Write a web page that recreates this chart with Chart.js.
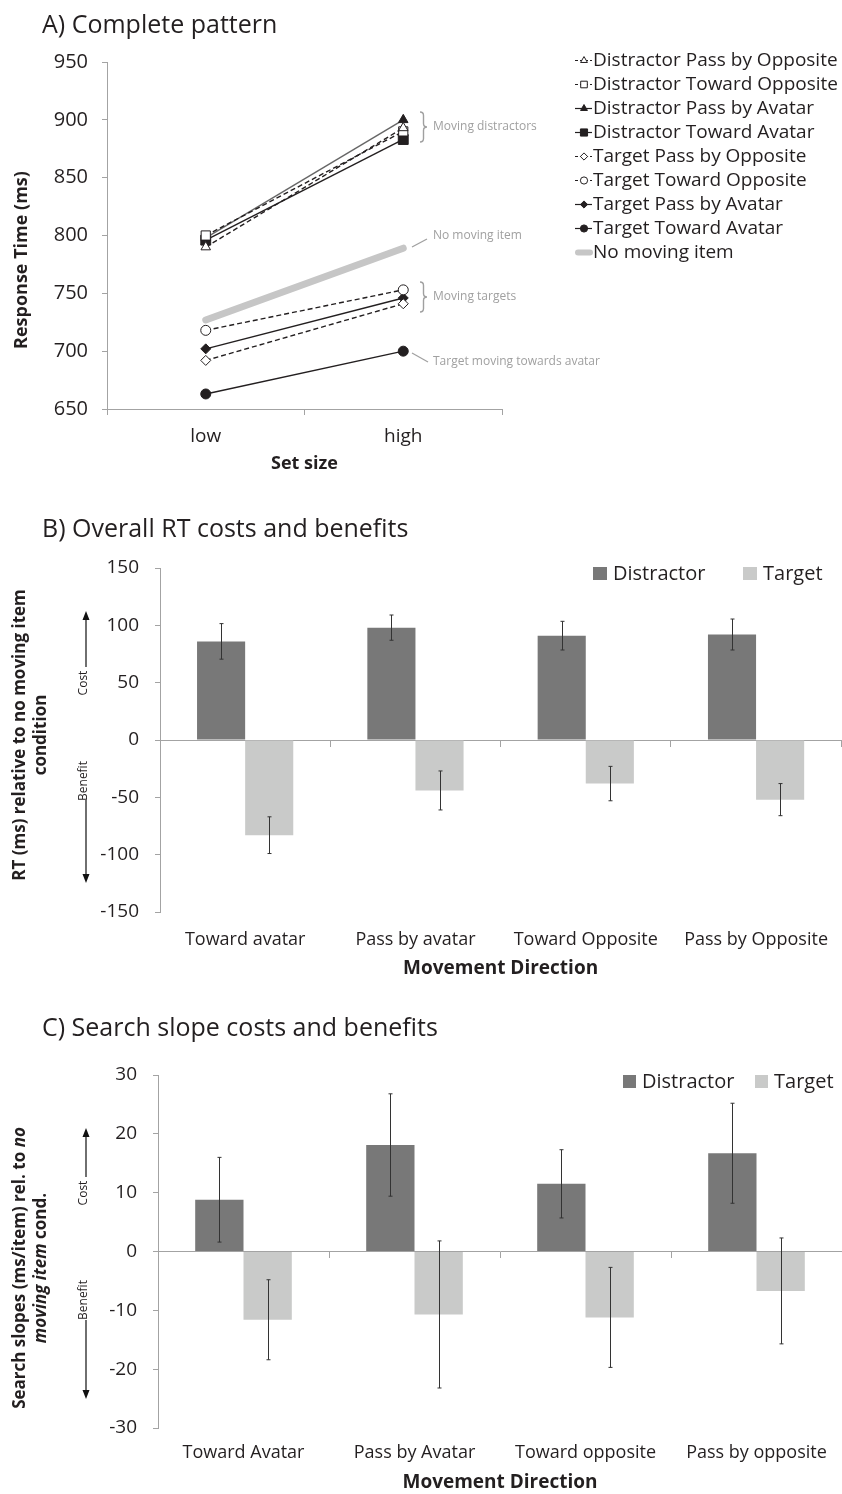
<!DOCTYPE html>
<html>
<head>
<meta charset="utf-8">
<title>Moving items: response times and search slopes</title>
<script src="https://cdn.jsdelivr.net/npm/chart.js@4.4.1/dist/chart.umd.min.js"></script>
<style>
  html, body { margin: 0; padding: 0; background: #fff; overflow: hidden; }
  canvas { position: absolute; left: 0; display: block; }
</style>
</head>
<body>
<canvas id="chartA" width="842" height="485" style="top:0"></canvas>
<canvas id="chartB" width="845" height="500" style="top:490px"></canvas>
<canvas id="chartC" width="842" height="494" style="top:1000px"></canvas>
<script>
// --- 1. Data ---
// A) response times per set size
const setSizes = ['low', 'high'];
const rtTicks = [650, 700, 750, 800, 850, 900, 950];
const seriesNames = [
    'Distractor Pass by Opposite',
    'Distractor Toward Opposite',
    'Distractor Pass by Avatar',
    'Distractor Toward Avatar',
    'Target Pass by Opposite',
    'Target Toward Opposite',
    'Target Pass by Avatar',
    'Target Toward Avatar',
    'No moving item'
];
const distPassOpposite = [790, 893];
const distTowardOpposite = [800, 890];
const distPassAvatar = [798, 900];
const distTowardAvatar = [796, 883];
const targPassOpposite = [692, 741];
const targTowardOpposite = [718, 753];
const targPassAvatar = [702, 746];
const targTowardAvatar = [663, 700];
const noMovingItem = [727, 789];

// B) RT relative to the no moving item condition
const directionsB = ['Toward avatar', 'Pass by avatar', 'Toward Opposite', 'Pass by Opposite'];
const costTicks = [-150, -100, -50, 0, 50, 100, 150];
const rtDistractor = [86, 98, 91, 92];
const rtDistractorErr = [15.5, 11, 12.5, 13.5];
const rtTarget = [-83, -44, -38, -52];
const rtTargetErr = [16, 17, 15, 14];

// C) search slopes relative to the no moving item condition
const directionsC = ['Toward Avatar', 'Pass by Avatar', 'Toward opposite', 'Pass by opposite'];
const slopeTicks = [-30, -20, -10, 0, 10, 20, 30];
const slopeDistractor = [8.8, 18.1, 11.5, 16.7];
const slopeDistractorErr = [7.2, 8.7, 5.8, 8.5];
const slopeTarget = [-11.6, -10.7, -11.2, -6.7];
const slopeTargetErr = [6.8, 12.5, 8.5, 9];

// --- 2. Shared look ---
const FONT = '"Open Sans", "DejaVu Sans", sans-serif';
const INK = '#231f20';
const AXIS = '#a3a3a3';
const NOTE = '#a0a0a0';
const DARK_BAR = '#787878';
const LIGHT_BAR = '#c9cac9';

Chart.defaults.font.family = FONT;
Chart.defaults.color = INK;

function lineSeries(label, data, shape, filled, dashed, radius, lineColor) {
    return {
        label: label,
        data: data,
        borderColor: lineColor || INK,
        borderWidth: 1.4,
        borderDash: dashed ? [5, 3] : [],
        pointStyle: shape,
        pointRadius: radius,
        pointHoverRadius: radius,
        pointBackgroundColor: filled ? INK : '#fff',
        pointBorderColor: INK,
        pointBorderWidth: 1
    };
}

function marker(ctx, style, radius, x, y) {
    if (Chart.helpers && Chart.helpers.drawPoint) {
        Chart.helpers.drawPoint(ctx, { pointStyle: style, radius: radius, rotation: 0, borderWidth: 1 }, x, y);
        return;
    }
    ctx.beginPath();
    ctx.arc(x, y, radius, 0, Math.PI * 2);
    ctx.fill();
    ctx.stroke();
}

// --- 3. Drawing helpers for titles, notes and keys ---
function drawSideTitle(ctx, st) {
    st.lines.forEach((segs, i) => {
        let total = 0;
        const widths = segs.map(s => {
            ctx.font = (s.it ? 'italic ' : '') + 'bold ' + st.size + 'px ' + FONT;
            const w = ctx.measureText(s.t).width;
            total += w;
            return w;
        });
        ctx.save();
        ctx.translate(st.x[i], st.y);
        ctx.rotate(-Math.PI / 2);
        ctx.fillStyle = INK;
        ctx.textAlign = 'left';
        ctx.textBaseline = 'middle';
        let pos = -total / 2;
        segs.forEach((s, k) => {
            ctx.font = (s.it ? 'italic ' : '') + 'bold ' + st.size + 'px ' + FONT;
            ctx.fillText(s.t, pos, 0);
            pos += widths[k];
        });
        ctx.restore();
    });
}

function rotatedLabel(ctx, text, x, y) {
    ctx.save();
    ctx.translate(x, y);
    ctx.rotate(-Math.PI / 2);
    ctx.font = '12px ' + FONT;
    ctx.fillStyle = INK;
    ctx.textAlign = 'center';
    ctx.textBaseline = 'middle';
    ctx.fillText(text, 0, 0);
    ctx.restore();
}

function drawCostBenefit(ctx, a) {
    ctx.strokeStyle = '#111';
    ctx.fillStyle = '#111';
    ctx.lineWidth = 1.2;
    ctx.beginPath();
    ctx.moveTo(a.x, a.costLineBottom);
    ctx.lineTo(a.x, a.costTip + 6);
    ctx.moveTo(a.x, a.benefitLineTop);
    ctx.lineTo(a.x, a.benefitTip - 6);
    ctx.stroke();
    ctx.beginPath();
    ctx.moveTo(a.x, a.costTip);
    ctx.lineTo(a.x - 3.5, a.costTip + 9);
    ctx.lineTo(a.x + 3.5, a.costTip + 9);
    ctx.closePath();
    ctx.moveTo(a.x, a.benefitTip);
    ctx.lineTo(a.x - 3.5, a.benefitTip - 9);
    ctx.lineTo(a.x + 3.5, a.benefitTip - 9);
    ctx.closePath();
    ctx.fill();
    rotatedLabel(ctx, 'Cost', a.x - 2, a.costText);
    rotatedLabel(ctx, 'Benefit', a.x - 2, a.benefitText);
}

function drawSwatches(ctx, chart, sw) {
    chart.data.datasets.forEach((ds, i) => {
        ctx.fillStyle = ds.backgroundColor;
        ctx.fillRect(sw.x[i], sw.y, sw.w, sw.h);
        ctx.fillStyle = INK;
        ctx.font = sw.size + 'px ' + FONT;
        ctx.textAlign = 'left';
        ctx.textBaseline = 'middle';
        ctx.fillText(ds.label, sw.x[i] + sw.w + 6, sw.y + sw.h / 2 + 0.5);
    });
}

function drawLineKey(ctx, chart, key) {
    chart.data.datasets.forEach((ds, i) => {
        const y = key.y + i * key.step;
        ctx.save();
        ctx.strokeStyle = ds.borderColor;
        if (ds.borderWidth > 3) {
            ctx.lineWidth = 6;
            ctx.lineCap = 'round';
            ctx.beginPath();
            ctx.moveTo(key.x0 + 3, y);
            ctx.lineTo(key.x1 - 2, y);
            ctx.stroke();
        } else {
            ctx.strokeStyle = INK;
            ctx.lineWidth = 1.2;
            ctx.setLineDash(ds.borderDash.length ? [3, 2] : []);
            ctx.beginPath();
            ctx.moveTo(key.x0, y);
            ctx.lineTo(key.x1, y);
            ctx.stroke();
            ctx.setLineDash([]);
            ctx.fillStyle = ds.pointBackgroundColor;
            ctx.strokeStyle = ds.pointBorderColor;
            ctx.lineWidth = 1;
            marker(ctx, ds.pointStyle, ds.pointRadius * 0.72, key.xm, y);
        }
        ctx.restore();
        ctx.fillStyle = INK;
        ctx.font = key.size + 'px ' + FONT;
        ctx.textAlign = 'left';
        ctx.textBaseline = 'middle';
        ctx.fillText(ds.label, key.x1 + 1, y + 0.5);
    });
}

function brace(ctx, x, y1, y2, w) {
    const m = (y1 + y2) / 2, h = w / 2;
    ctx.beginPath();
    ctx.moveTo(x, y1);
    ctx.quadraticCurveTo(x + h, y1, x + h, y1 + h);
    ctx.lineTo(x + h, m - h);
    ctx.quadraticCurveTo(x + h, m, x + w, m);
    ctx.quadraticCurveTo(x + h, m, x + h, m + h);
    ctx.lineTo(x + h, y2 - h);
    ctx.quadraticCurveTo(x + h, y2, x, y2);
    ctx.stroke();
}

function drawNotes(ctx, notes) {
    ctx.strokeStyle = NOTE;
    ctx.lineWidth = 1.4;
    notes.braces.forEach(b => brace(ctx, b[0], b[1], b[2], 7));
    ctx.lineWidth = 1.2;
    notes.leaders.forEach(l => {
        ctx.beginPath();
        ctx.moveTo(l[0], l[1]);
        ctx.lineTo(l[2], l[3]);
        ctx.stroke();
    });
    ctx.fillStyle = NOTE;
    ctx.font = '12px ' + FONT;
    ctx.textAlign = 'left';
    ctx.textBaseline = 'middle';
    notes.texts.forEach(t => ctx.fillText(t[0], t[1], t[2]));
}

function panelDecor(cfg) {
    return {
        id: 'panelDecor',
        afterDraw(chart) {
            const ctx = chart.ctx;
            ctx.save();
            ctx.fillStyle = INK;
            ctx.font = '25px ' + FONT;
            ctx.textAlign = 'left';
            ctx.textBaseline = 'alphabetic';
            ctx.fillText(cfg.heading, 42, cfg.headingY);
            drawSideTitle(ctx, cfg.sideTitle);
            if (cfg.costBenefit) drawCostBenefit(ctx, cfg.costBenefit);
            if (cfg.swatches) drawSwatches(ctx, chart, cfg.swatches);
            if (cfg.lineKey) drawLineKey(ctx, chart, cfg.lineKey);
            if (cfg.notes) drawNotes(ctx, cfg.notes);
            ctx.restore();
        }
    };
}

// error bars: +/- one error around each bar value, drawn through the y scale
const errorBars = {
    id: 'errorBars',
    afterDatasetsDraw(chart) {
        const ctx = chart.ctx;
        const y = chart.scales.y;
        ctx.save();
        ctx.strokeStyle = '#333';
        ctx.lineWidth = 1;
        chart.data.datasets.forEach((ds, i) => {
            if (!ds.errors) return;
            chart.getDatasetMeta(i).data.forEach((bar, j) => {
                const top = y.getPixelForValue(ds.data[j] + ds.errors[j]);
                const bot = y.getPixelForValue(ds.data[j] - ds.errors[j]);
                const x = Math.round(bar.x) + 0.5;
                ctx.beginPath();
                ctx.moveTo(x, top);
                ctx.lineTo(x, bot);
                ctx.moveTo(x - 2, top);
                ctx.lineTo(x + 2, top);
                ctx.moveTo(x - 2, bot);
                ctx.lineTo(x + 2, bot);
                ctx.stroke();
            });
        });
        ctx.restore();
    }
};

// --- 4. A) Complete pattern ---
new Chart(document.getElementById('chartA'), {
    type: 'line',
    data: {
        labels: setSizes,
        datasets: [
            lineSeries(seriesNames[0], distPassOpposite, 'triangle', false, true, 5.5),
            lineSeries(seriesNames[1], distTowardOpposite, 'rect', false, true, 6.5),
            lineSeries(seriesNames[2], distPassAvatar, 'triangle', true, false, 5.5, '#666'),
            lineSeries(seriesNames[3], distTowardAvatar, 'rect', true, false, 7),
            lineSeries(seriesNames[4], targPassOpposite, 'rectRot', false, true, 5),
            lineSeries(seriesNames[5], targTowardOpposite, 'circle', false, true, 5),
            lineSeries(seriesNames[6], targPassAvatar, 'rectRot', true, false, 5),
            lineSeries(seriesNames[7], targTowardAvatar, 'circle', true, false, 5),
            {
                label: seriesNames[8],
                data: noMovingItem,
                borderColor: '#c6c6c6',
                borderWidth: 7,
                borderCapStyle: 'round',
                borderDash: [],
                pointRadius: 0
            }
        ]
    },
    options: {
        responsive: false,
        devicePixelRatio: 1,
        animation: false,
        events: [],
        layout: { padding: { top: 62, right: 340, bottom: 0, left: 0 } },
        plugins: { legend: { display: false }, tooltip: { enabled: false } },
        scales: {
            x: {
                type: 'category',
                offset: true,
                grid: { display: true, drawOnChartArea: false, drawTicks: true, tickLength: 6, color: AXIS, offset: true },
                border: { color: AXIS },
                ticks: { font: { size: 19 }, color: INK, padding: 10 },
                title: { display: true, text: 'Set size', font: { size: 18, weight: 'bold' }, color: INK, padding: { top: 0, bottom: 10 } },
                afterFit(s) { s.height = 76; }
            },
            y: {
                min: rtTicks[0],
                max: rtTicks[rtTicks.length - 1],
                ticks: { stepSize: rtTicks[1] - rtTicks[0], font: { size: 20 }, color: INK, padding: 14 },
                grid: { display: true, drawOnChartArea: false, drawTicks: true, tickLength: 5, color: AXIS },
                border: { color: AXIS },
                afterFit(s) { s.width = 107; }
            }
        }
    },
    plugins: [panelDecor({
        heading: 'A) Complete pattern',
        headingY: 33,
        sideTitle: { lines: [[{ t: 'Response Time (ms)' }]], x: [22], y: 260, size: 18 },
        lineKey: { x0: 575, x1: 592, xm: 584, y: 60.5, step: 24, size: 19 },
        notes: {
            braces: [[420, 112, 142], [420, 282, 312]],
            leaders: [[412, 247, 427, 239], [412, 353, 428, 362]],
            texts: [
                ['Moving distractors', 433, 127],
                ['No moving item', 433, 236],
                ['Moving targets', 433, 297],
                ['Target moving towards avatar', 433, 362]
            ]
        }
    })]
});

// --- 5. Bar panels (B and C) ---
function costBarChart(id, cfg) {
    return new Chart(document.getElementById(id), {
        type: 'bar',
        data: {
            labels: cfg.labels,
            datasets: [
                { label: 'Distractor', data: cfg.distractor, errors: cfg.distractorErr, backgroundColor: DARK_BAR, borderWidth: 0 },
                { label: 'Target', data: cfg.target, errors: cfg.targetErr, backgroundColor: LIGHT_BAR, borderWidth: 0 }
            ]
        },
        options: {
            responsive: false,
            devicePixelRatio: 1,
            animation: false,
            events: [],
            layout: { padding: { top: cfg.top, right: 0, bottom: 0, left: 0 } },
            datasets: { bar: { categoryPercentage: 0.565, barPercentage: 1 } },
            plugins: { legend: { display: false }, tooltip: { enabled: false } },
            scales: {
                x: {
                    type: 'category',
                    grid: { display: false, drawTicks: false },
                    border: { display: false },
                    ticks: { font: { size: 18 }, color: INK, padding: cfg.labelPad },
                    title: { display: true, text: 'Movement Direction', font: { size: 19, weight: 'bold' }, color: INK, padding: { top: 0, bottom: cfg.titlePad } },
                    afterFit(s) { s.height = cfg.axisHeight; }
                },
                // zero line with tick marks between the categories
                x2: {
                    type: 'category',
                    position: { y: 0 },
                    offset: true,
                    grid: { display: true, drawOnChartArea: false, drawTicks: true, tickLength: 6, color: AXIS, offset: true },
                    border: { display: true, color: AXIS },
                    ticks: { display: false }
                },
                y: {
                    min: cfg.ticks[0],
                    max: cfg.ticks[cfg.ticks.length - 1],
                    ticks: { stepSize: cfg.ticks[1] - cfg.ticks[0], font: { size: 19 }, color: INK, padding: 16 },
                    grid: { display: true, drawOnChartArea: false, drawTicks: true, tickLength: 5, color: AXIS },
                    border: { color: AXIS },
                    afterFit(s) { s.width = cfg.axisWidth; }
                }
            }
        },
        plugins: [errorBars, panelDecor(cfg.decor)]
    });
}

costBarChart('chartB', {
    labels: directionsB,
    ticks: costTicks,
    distractor: rtDistractor,
    distractorErr: rtDistractorErr,
    target: rtTarget,
    targetErr: rtTargetErr,
    top: 78,
    axisHeight: 78,
    axisWidth: 160,
    labelPad: 17,
    titlePad: 10,
    decor: {
        heading: 'B) Overall RT costs and benefits',
        headingY: 47,
        sideTitle: {
            lines: [[{ t: 'RT (ms) relative to no moving item' }], [{ t: 'condition' }]],
            x: [20, 41], y: 245, size: 17
        },
        costBenefit: { x: 86, costTip: 121, costLineBottom: 177, costText: 193, benefitText: 291, benefitLineTop: 310, benefitTip: 393 },
        swatches: { x: [593, 743], y: 77, w: 14, h: 13, size: 20 }
    }
});

costBarChart('chartC', {
    labels: directionsC,
    ticks: slopeTicks,
    distractor: slopeDistractor,
    distractorErr: slopeDistractorErr,
    target: slopeTarget,
    targetErr: slopeTargetErr,
    top: 75,
    axisHeight: 66,
    axisWidth: 158,
    labelPad: 14,
    titlePad: 0,
    decor: {
        heading: 'C) Search slope costs and benefits',
        headingY: 36,
        sideTitle: {
            lines: [
                [{ t: 'Search slopes (ms/item) rel. to ' }, { t: 'no', it: true }],
                [{ t: 'moving item', it: true }, { t: ' cond.' }]
            ],
            x: [20, 41], y: 268, size: 17
        },
        costBenefit: { x: 86, costTip: 128, costLineBottom: 177, costText: 193, benefitText: 300, benefitLineTop: 320, benefitTip: 399 },
        swatches: { x: [623, 755], y: 75, w: 13, h: 13, size: 20 }
    }
});
</script>
</body>
</html>
